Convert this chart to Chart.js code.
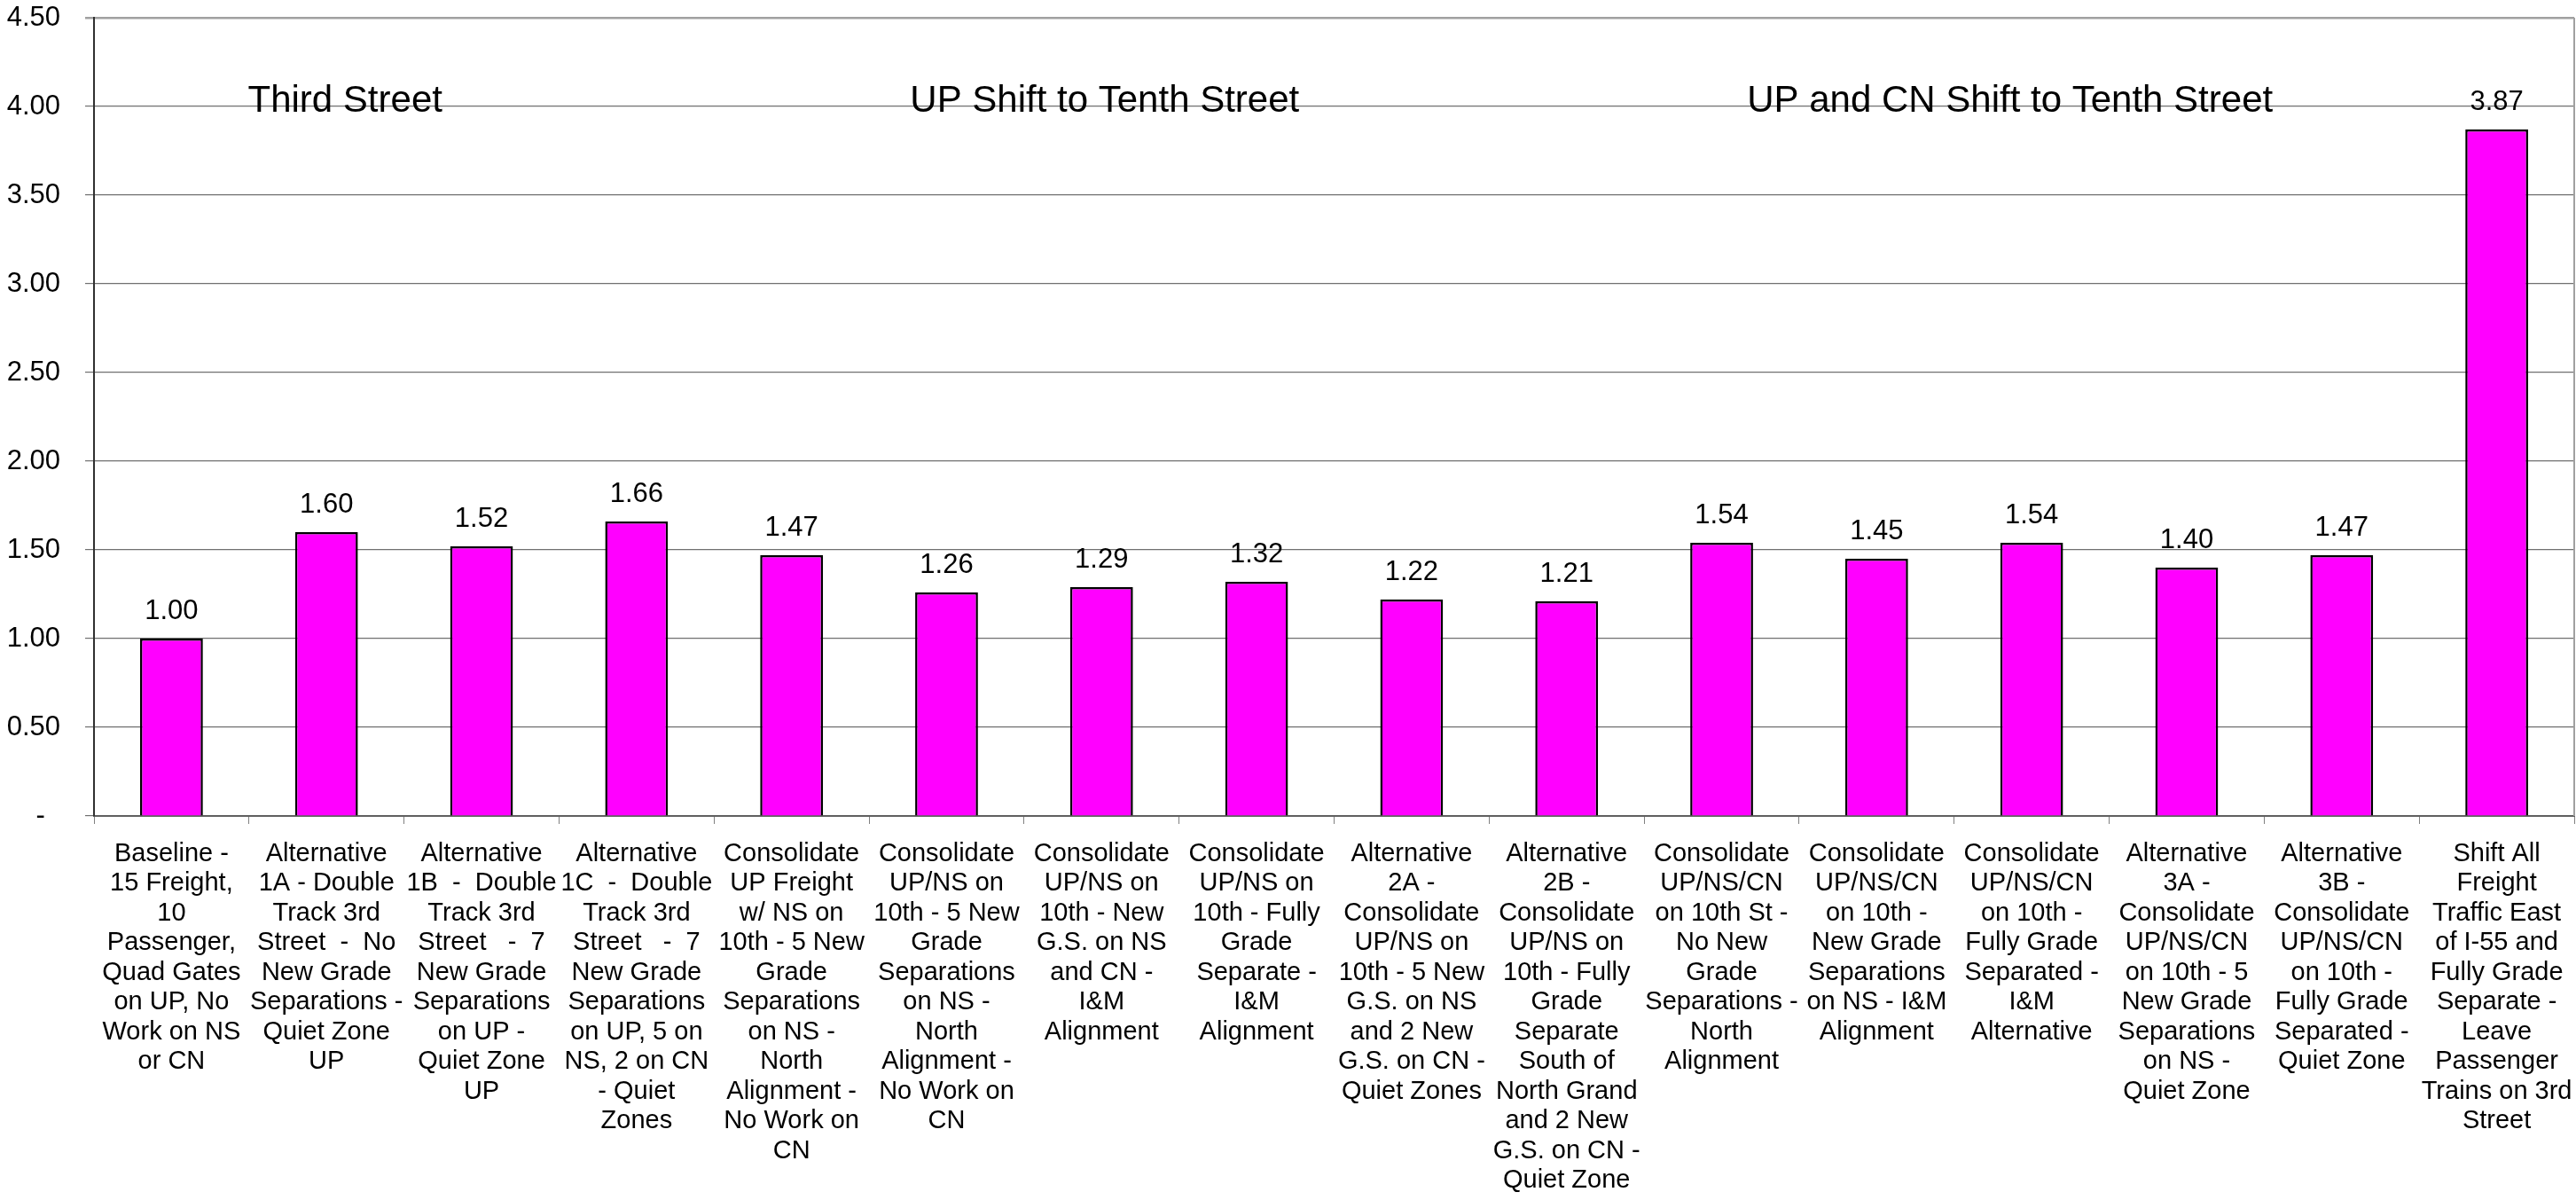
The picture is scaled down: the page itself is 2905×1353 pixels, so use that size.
<!DOCTYPE html>
<html>
<head>
<meta charset="utf-8">
<title>Relative cost by alternative</title>
<script src="https://cdn.jsdelivr.net/npm/chart.js@4.4.1/dist/chart.umd.min.js"></script>
<style>
  html, body { margin: 0; padding: 0; background: #fff; }
  #wrap { width: 2905px; height: 1353px; position: relative; }
</style>
</head>
<body>
<div id="wrap"><canvas id="costChart"></canvas></div>
<script>
// Category labels, one array of wrapped lines per bar
const categories = [
  ['Baseline -', '15 Freight,', '10', 'Passenger,', 'Quad Gates', 'on UP, No', 'Work on NS', 'or CN'],
  ['Alternative', '1A - Double', 'Track 3rd', 'Street  -  No', 'New Grade', 'Separations -', 'Quiet Zone', 'UP'],
  ['Alternative', '1B  -  Double', 'Track 3rd', 'Street   -  7', 'New Grade', 'Separations', 'on UP -', 'Quiet Zone', 'UP'],
  ['Alternative', '1C  -  Double', 'Track 3rd', 'Street   -  7', 'New Grade', 'Separations', 'on UP, 5 on', 'NS, 2 on CN', '- Quiet', 'Zones'],
  ['Consolidate', 'UP Freight', 'w/ NS on', '10th - 5 New', 'Grade', 'Separations', 'on NS -', 'North', 'Alignment -', 'No Work on', 'CN'],
  ['Consolidate', 'UP/NS on', '10th - 5 New', 'Grade', 'Separations', 'on NS -', 'North', 'Alignment -', 'No Work on', 'CN'],
  ['Consolidate', 'UP/NS on', '10th - New', 'G.S. on NS', 'and CN -', 'I&M', 'Alignment'],
  ['Consolidate', 'UP/NS on', '10th - Fully', 'Grade', 'Separate -', 'I&M', 'Alignment'],
  ['Alternative', '2A -', 'Consolidate', 'UP/NS on', '10th - 5 New', 'G.S. on NS', 'and 2 New', 'G.S. on CN -', 'Quiet Zones'],
  ['Alternative', '2B -', 'Consolidate', 'UP/NS on', '10th - Fully', 'Grade', 'Separate', 'South of', 'North Grand', 'and 2 New', 'G.S. on CN -', 'Quiet Zone'],
  ['Consolidate', 'UP/NS/CN', 'on 10th St -', 'No New', 'Grade', 'Separations -', 'North', 'Alignment'],
  ['Consolidate', 'UP/NS/CN', 'on 10th -', 'New Grade', 'Separations', 'on NS - I&M', 'Alignment'],
  ['Consolidate', 'UP/NS/CN', 'on 10th -', 'Fully Grade', 'Separated -', 'I&M', 'Alternative'],
  ['Alternative', '3A -', 'Consolidate', 'UP/NS/CN', 'on 10th - 5', 'New Grade', 'Separations', 'on NS -', 'Quiet Zone'],
  ['Alternative', '3B -', 'Consolidate', 'UP/NS/CN', 'on 10th -', 'Fully Grade', 'Separated -', 'Quiet Zone'],
  ['Shift All', 'Freight', 'Traffic East', 'of I-55 and', 'Fully Grade', 'Separate -', 'Leave', 'Passenger', 'Trains on 3rd', 'Street']
];

const values = [1.00, 1.60, 1.52, 1.66, 1.47, 1.26, 1.29, 1.32, 1.22, 1.21, 1.54, 1.45, 1.54, 1.40, 1.47, 3.87];

// Group headings written across the top of the plot
const groupTitles = ['Third Street', 'UP Shift to Tenth Street', 'UP and CN Shift to Tenth Street'];
const groupCenters = [1.12, 6.02, 11.86]; // in category units

const FONT = "'Liberation Sans', Arial, sans-serif";

// ── Value labels and group headings ──────────────────────
const labelsPlugin = {
  id: 'barLabels',
  afterDatasetsDraw(chart) {
    const { ctx } = chart;
    const meta = chart.getDatasetMeta(0);
    ctx.save();
    ctx.fillStyle = '#000';
    ctx.font = `31px ${FONT}`;
    ctx.textAlign = 'center';
    ctx.textBaseline = 'middle';
    meta.data.forEach((bar, i) => {
      ctx.fillText(values[i].toFixed(2), bar.x, bar.y - 31);
    });
    ctx.restore();
  },
  afterDraw(chart) {
    const { ctx, chartArea, scales } = chart;
    ctx.save();
    // plot area frame on the right side
    ctx.strokeStyle = '#a0a0a0';
    ctx.lineWidth = 2;
    ctx.beginPath();
    ctx.moveTo(chartArea.right, chartArea.top);
    ctx.lineTo(chartArea.right, chartArea.bottom);
    ctx.stroke();

    ctx.fillStyle = '#000';
    ctx.font = `42px ${FONT}`;
    ctx.textAlign = 'center';
    ctx.textBaseline = 'middle';
    const y = scales.y.getPixelForValue(4.03);
    groupTitles.forEach((t, i) => {
      ctx.fillText(t, scales.x.getPixelForValue(groupCenters[i]), y);
    });
    ctx.restore();
  }
};

new Chart(document.getElementById('costChart'), {
  type: 'bar',
  data: {
    labels: categories,
    datasets: [{
      data: values,
      backgroundColor: '#FF00FF',
      borderColor: '#000000',
      borderWidth: 2.5,
      barPercentage: 0.405,
      categoryPercentage: 1.0
    }]
  },
  options: {
    responsive: true,
    maintainAspectRatio: false,
    animation: false,
    layout: { padding: { top: 20, right: 2, left: 0, bottom: 0 } },
    plugins: {
      legend: { display: false },
      tooltip: { enabled: false }
    },
    scales: {
      x: {
        offset: true,
        afterFit: (s) => { s.height = 433; s.paddingLeft = 0; s.paddingRight = 0; },
        grid: {
          offset: true,
          drawOnChartArea: false,
          tickLength: 9,
          color: '#808080'
        },
        border: { color: '#606060', width: 2 },
        ticks: {
          autoSkip: false,
          maxRotation: 0,
          minRotation: 0,
          padding: 17,
          color: '#000',
          font: { family: FONT, size: 29, lineHeight: 1.155 }
        }
      },
      y: {
        min: 0,
        max: 4.5,
        afterFit: (s) => { s.width = 106; s.paddingTop = 0; s.paddingBottom = 0; },
        grid: {
          color: (c) => c.tick && c.tick.value === 4.5 ? '#a0a0a0' : '#707070',
          lineWidth: (c) => c.tick && c.tick.value === 4.5 ? 2.5 : 1.2,
          tickLength: 10
        },
        border: { color: '#303030', width: 2 },
        ticks: {
          stepSize: 0.5,
          padding: 28,
          color: '#000',
          font: { family: FONT, size: 31 },
          callback: (v) => v === 0 ? '-  ' : v.toFixed(2)
        }
      }
    }
  },
  plugins: [labelsPlugin]
});
</script>
</body>
</html>
